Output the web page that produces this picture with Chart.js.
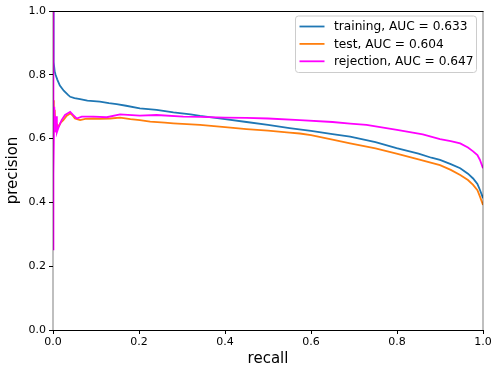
<!DOCTYPE html>
<html>
<head>
<meta charset="utf-8">
<script src="https://cdn.jsdelivr.net/npm/chart.js@4"></script>
<style>
  html, body { margin: 0; padding: 0; background: #fff; }
  #wrap { width: 492px; height: 368px; }
</style>
</head>
<body>
<div id="wrap"><canvas id="pr-chart" width="492" height="368"></canvas></div>
<script>
// precision-recall curves, values
const seriesLabels = ['training, AUC = 0.633', 'test, AUC = 0.604', 'rejection, AUC = 0.647'];
const seriesColors = ['#1f77b4', '#ff7f0e', '#ff00ff'];

const trainRecall = [0, 0.001, 0.002, 0.004, 0.006, 0.010, 0.016, 0.025, 0.035, 0.040, 0.050, 0.063,
  0.080, 0.109, 0.130, 0.148, 0.170, 0.202, 0.241, 0.280, 0.320, 0.342, 0.400, 0.450, 0.500, 0.550,
  0.600, 0.650, 0.691, 0.750, 0.799, 0.850, 0.880, 0.900, 0.925, 0.947, 0.965, 0.977, 0.987, 0.993, 1.0];
const trainPrecision = [1.0, 0.915, 0.84, 0.81, 0.80, 0.785, 0.766, 0.75, 0.737, 0.731, 0.727, 0.724,
  0.719, 0.716, 0.711, 0.708, 0.703, 0.695, 0.690, 0.682, 0.676, 0.671, 0.661, 0.652, 0.643, 0.633,
  0.624, 0.614, 0.606, 0.589, 0.570, 0.553, 0.540, 0.533, 0.520, 0.507, 0.490, 0.475, 0.458, 0.439, 0.413];

const testRecall = [0.0005, 0.002, 0.003, 0.004, 0.006, 0.009, 0.012, 0.018, 0.024, 0.032, 0.040, 0.046,
  0.051, 0.063, 0.075, 0.094, 0.110, 0.133, 0.156, 0.180, 0.202, 0.226, 0.260, 0.280, 0.342, 0.400,
  0.450, 0.500, 0.550, 0.574, 0.600, 0.650, 0.691, 0.750, 0.799, 0.850, 0.900, 0.925, 0.947, 0.965,
  0.977, 0.987, 0.993, 1.0];
const testPrecision = [0.72, 0.70, 0.63, 0.69, 0.62, 0.645, 0.637, 0.650, 0.658, 0.672, 0.679, 0.672,
  0.663, 0.658, 0.662, 0.663, 0.662, 0.663, 0.666, 0.661, 0.658, 0.653, 0.650, 0.648, 0.643, 0.636,
  0.630, 0.625, 0.619, 0.616, 0.611, 0.597, 0.585, 0.569, 0.553, 0.535, 0.517, 0.502, 0.486, 0.470,
  0.455, 0.438, 0.418, 0.392];

const rejRecall = [0, 0, 0.001, 0.002, 0.003, 0.005, 0.007, 0.009, 0.012, 0.016, 0.020, 0.028, 0.040,
  0.047, 0.055, 0.067, 0.094, 0.125, 0.156, 0.202, 0.241, 0.303, 0.342, 0.400, 0.450, 0.500, 0.574,
  0.650, 0.691, 0.729, 0.800, 0.860, 0.900, 0.925, 0.947, 0.965, 0.977, 0.987, 0.993, 1.0];
const rejPrecision = [1.0, 0.25, 0.70, 0.49, 0.70, 0.62, 0.67, 0.62, 0.632, 0.645, 0.658, 0.674, 0.684,
  0.674, 0.663, 0.669, 0.669, 0.667, 0.676, 0.672, 0.674, 0.669, 0.668, 0.666, 0.665, 0.663, 0.658,
  0.652, 0.647, 0.643, 0.627, 0.613, 0.598, 0.592, 0.585, 0.572, 0.560, 0.548, 0.533, 0.507];

const xTicks = [0, 0.2, 0.4, 0.6, 0.8, 1.0];
const yTicks = [0, 0.2, 0.4, 0.6, 0.8, 1.0];

function toPoints(xs, ys) {
  return xs.map((x, i) => ({ x: x, y: ys[i] }));
}

const FONT = '"DejaVu Sans", Verdana, sans-serif';

// matplotlib-style frame: black top/bottom, soft left/right edges drawn over the curves
const framePlugin = {
  id: 'frame',
  afterDatasetsDraw(chart) {
    const a = chart.chartArea;
    const c = chart.ctx;
    c.save();
    c.lineWidth = 1;
    c.strokeStyle = '#000';
    c.beginPath();
    c.moveTo(a.left - 0.5, a.top + 0.5);
    c.lineTo(a.right + 0.5, a.top + 0.5);
    c.moveTo(a.left - 0.5, a.bottom + 0.5);
    c.lineTo(a.right + 0.5, a.bottom + 0.5);
    c.stroke();
    c.strokeStyle = 'rgba(0,0,0,0.5)';
    c.beginPath();
    c.moveTo(a.left, a.top);
    c.lineTo(a.left, a.bottom + 1);
    c.moveTo(a.right, a.top);
    c.lineTo(a.right, a.bottom + 1);
    c.stroke();
    c.restore();
  }
};

// legend box inside the plot, upper right
const legendPlugin = {
  id: 'boxLegend',
  afterDraw(chart) {
    const c = chart.ctx;
    const a = chart.chartArea;
    const boxW = 181, boxH = 56.5;
    const bx = a.right - 6.5 - boxW, by = a.top + 5;
    c.save();
    c.fillStyle = 'rgba(255,255,255,0.8)';
    c.strokeStyle = '#cccccc';
    c.lineWidth = 1;
    c.beginPath();
    c.roundRect(bx, by, boxW, boxH, 3);
    c.fill();
    c.stroke();
    c.font = '12.2px ' + FONT;
    c.textBaseline = 'middle';
    c.textAlign = 'left';
    chart.data.datasets.forEach((ds, i) => {
      const y = by + 10.5 + i * 17.4;
      c.strokeStyle = ds.borderColor;
      c.lineWidth = 1.8;
      c.beginPath();
      c.moveTo(bx + 4, y);
      c.lineTo(bx + 29, y);
      c.stroke();
      c.fillStyle = '#000';
      c.fillText(ds.label, bx + 38.5, y + 0.5);
    });
    c.restore();
  }
};

const ctx = document.getElementById('pr-chart').getContext('2d');
const prChart = new Chart(ctx, {
  type: 'line',
  data: {
    datasets: [
      {
        label: seriesLabels[0],
        data: toPoints(trainRecall, trainPrecision),
        borderColor: seriesColors[0],
        order: 3
      },
      {
        label: seriesLabels[1],
        data: toPoints(testRecall, testPrecision),
        borderColor: seriesColors[1],
        order: 2
      },
      {
        label: seriesLabels[2],
        data: toPoints(rejRecall, rejPrecision),
        borderColor: seriesColors[2],
        order: 1
      }
    ]
  },
  options: {
    responsive: false,
    animation: false,
    devicePixelRatio: 1,
    layout: { padding: { top: 11, right: 9, left: 0, bottom: 0 } },
    elements: {
      line: { borderWidth: 1.8, tension: 0, fill: false },
      point: { radius: 0, hoverRadius: 0 }
    },
    plugins: {
      legend: { display: false },
      tooltip: { enabled: false }
    },
    scales: {
      x: {
        type: 'linear',
        min: 0,
        max: 1,
        afterBuildTicks: s => { s.ticks = xTicks.map(v => ({ value: v })); },
        afterFit: s => { s.height = 38; s.paddingLeft = 0; s.paddingRight = 0; },
        border: { display: false },
        grid: { drawOnChartArea: false, drawTicks: true, tickLength: 4, color: '#000', tickWidth: 1 },
        ticks: {
          padding: 2,
          color: '#000',
          maxRotation: 0,
          font: { family: FONT, size: 11 },
          callback: v => Number(v).toFixed(1)
        },
        title: {
          display: true,
          text: 'recall',
          color: '#000',
          font: { family: FONT, size: 15 },
          padding: { top: 0, bottom: 0 }
        }
      },
      y: {
        type: 'linear',
        min: 0,
        max: 1,
        afterBuildTicks: s => { s.ticks = yTicks.map(v => ({ value: v })); },
        afterFit: s => { s.width = 53; },
        border: { display: false },
        grid: { drawOnChartArea: false, drawTicks: true, tickLength: 4, color: '#000', tickWidth: 1 },
        ticks: {
          padding: 3,
          color: '#000',
          font: { family: FONT, size: 11 },
          callback: v => Number(v).toFixed(1)
        },
        title: {
          display: true,
          text: 'precision',
          color: '#000',
          font: { family: FONT, size: 15 },
          padding: { top: 4, bottom: 0 }
        }
      }
    }
  },
  plugins: [framePlugin, legendPlugin]
});
</script>
</body>
</html>
